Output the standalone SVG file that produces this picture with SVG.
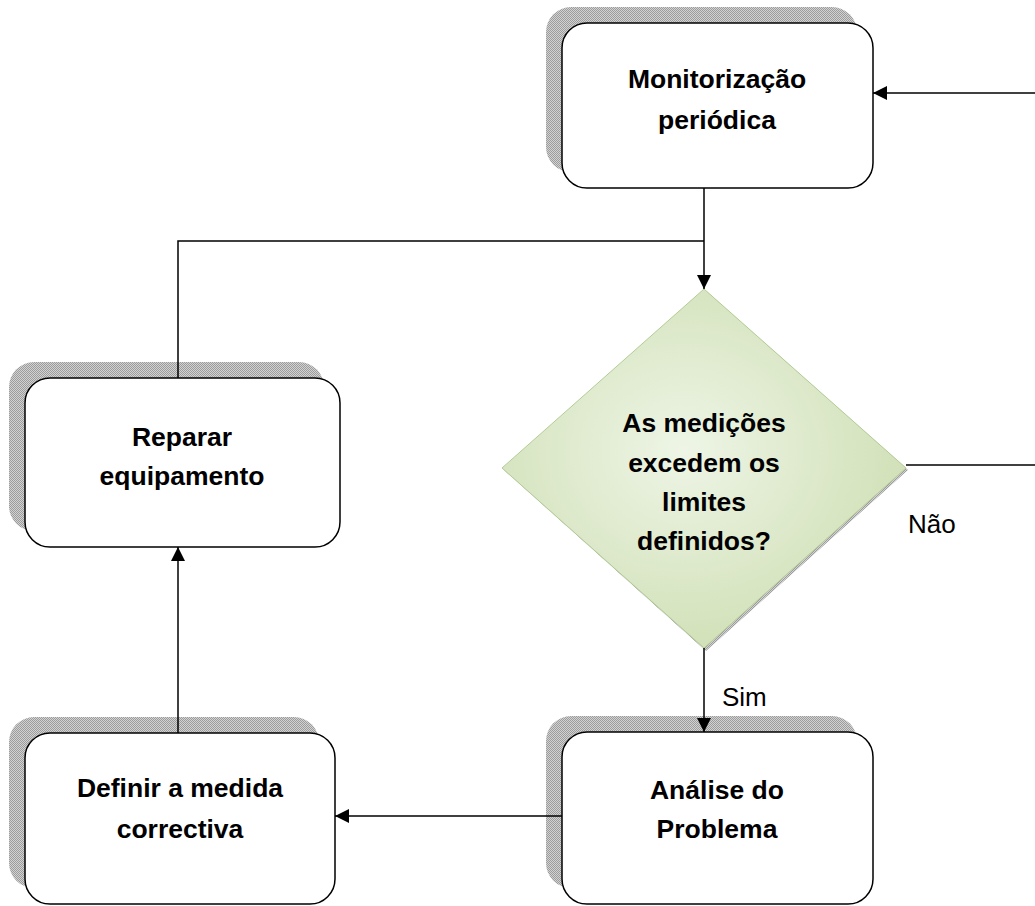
<svg xmlns="http://www.w3.org/2000/svg" width="1035" height="906" viewBox="0 0 1035 906">
  <defs>
    <!-- dithered grey used for the drop shadows -->
    <pattern id="dither" width="2" height="2" patternUnits="userSpaceOnUse">
      <rect width="2" height="2" fill="#d2d2d2"/>
      <rect width="1" height="1" fill="#9c9c9c"/>
      <rect x="1" y="1" width="1" height="1" fill="#9c9c9c"/>
    </pattern>
    <radialGradient id="leaf" cx="0.45" cy="0.45" r="0.6">
      <stop offset="0" stop-color="#eef5e6"/>
      <stop offset="1" stop-color="#cfdfb4"/>
    </radialGradient>
    <marker id="arrow" viewBox="0 0 14 14" refX="14" refY="7" markerWidth="14" markerHeight="14" markerUnits="userSpaceOnUse" orient="auto">
      <path d="M0,0 L14,7 L0,14 z" fill="#000"/>
    </marker>
    <style>
      .shadow { fill: url(#dither); }
      .box { fill: #fff; stroke: #000; stroke-width: 1.5; }
      .label { font-family: "Liberation Sans", Arial, sans-serif; font-size: 26.5px; font-weight: bold; fill: #000; text-anchor: middle; }
      .edge-label { font-family: "Liberation Sans", Arial, sans-serif; font-size: 26px; fill: #000; }
      .link { fill: none; stroke: #000; stroke-width: 1.5; }
    </style>
  </defs>

  <rect width="1035" height="906" fill="#fff"/>

  <g id="monitorizacao">
    <rect class="shadow" x="546" y="7" width="311" height="165" rx="25"/>
    <rect class="box" x="562" y="23" width="311" height="165" rx="25"/>
    <text class="label" x="717" y="88">Monitorização</text>
    <text class="label" x="717" y="129">periódica</text>
  </g>

  <g id="decisao">
    <polygon points="706,291 908,470 706,651 504,470" class="shadow"/>
    <polygon points="704,289 906,468 704,648 502,468" fill="url(#leaf)" stroke="#b3cc95" stroke-width="1"/>
    <text class="label" x="704" y="432">As medições</text>
    <text class="label" x="704" y="472">excedem os</text>
    <text class="label" x="704" y="511">limites</text>
    <text class="label" x="704" y="550">definidos?</text>
  </g>

  <g id="reparar">
    <rect class="shadow" x="9" y="362" width="315" height="169" rx="25"/>
    <rect class="box" x="25" y="378" width="315" height="169" rx="25"/>
    <text class="label" x="182" y="446">Reparar</text>
    <text class="label" x="182" y="485">equipamento</text>
  </g>

  <g id="analise">
    <rect class="shadow" x="546" y="716" width="311" height="172" rx="25"/>
    <rect class="box" x="562" y="732" width="311" height="172" rx="25"/>
    <text class="label" x="717" y="799">Análise do</text>
    <text class="label" x="717" y="838">Problema</text>
  </g>

  <g id="definir">
    <rect class="shadow" x="9" y="717" width="310" height="171" rx="25"/>
    <rect class="box" x="25" y="733" width="310" height="171" rx="25"/>
    <text class="label" x="180" y="797">Definir a medida</text>
    <text class="label" x="180" y="838">correctiva</text>
  </g>

  <!-- connectors, drawn over the node shadows -->
  <g id="connectors">
    <path class="link" d="M1035,93 H873" marker-end="url(#arrow)"/>
    <path class="link" d="M704,188 V289" marker-end="url(#arrow)"/>
    <path class="link" d="M178,378 V241 H704"/>
    <path class="link" d="M906,465 H1035"/>
    <path class="link" d="M704,648 V732" marker-end="url(#arrow)"/>
    <path class="link" d="M562,816 H335" marker-end="url(#arrow)"/>
    <path class="link" d="M178,733 V547" marker-end="url(#arrow)"/>
    <text class="edge-label" x="908" y="533">Não</text>
    <text class="edge-label" x="722" y="706">Sim</text>
  </g>
</svg>
